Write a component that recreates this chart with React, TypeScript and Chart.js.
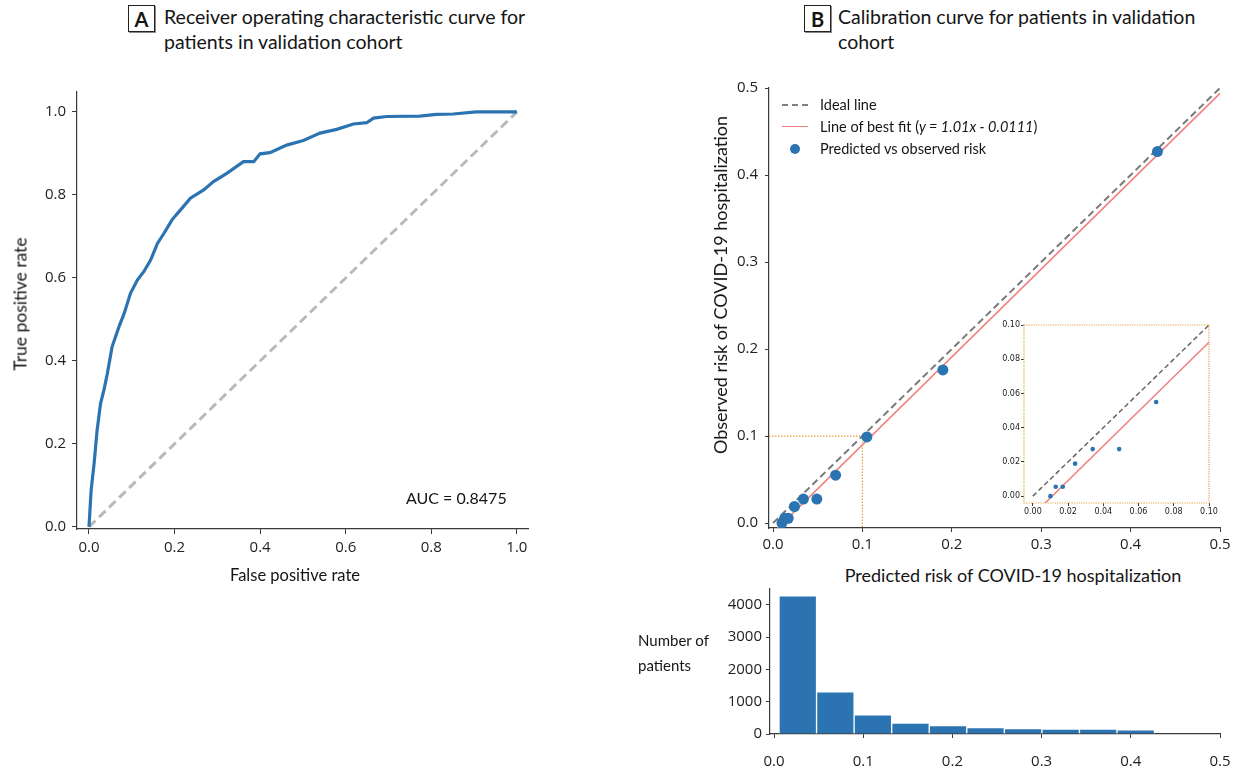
import React, { useEffect, useRef } from 'react';
import Chart from 'chart.js/auto';

// ---------- Panel A: ROC curve ----------
const rocFpr = [0, 0.005, 0.012, 0.019, 0.027, 0.035, 0.043, 0.054, 0.07, 0.082, 0.097, 0.113, 0.128, 0.144, 0.16, 0.175, 0.194, 0.214, 0.237, 0.268, 0.291, 0.322, 0.361, 0.385, 0.4, 0.423, 0.462, 0.501, 0.54, 0.579, 0.618, 0.649, 0.665, 0.696, 0.773, 0.812, 0.851, 0.905, 1.0];
const rocTpr = [0, 0.088, 0.153, 0.233, 0.297, 0.33, 0.37, 0.434, 0.482, 0.514, 0.563, 0.595, 0.615, 0.643, 0.683, 0.707, 0.74, 0.764, 0.792, 0.812, 0.832, 0.852, 0.88, 0.88, 0.899, 0.902, 0.92, 0.931, 0.949, 0.958, 0.971, 0.974, 0.985, 0.989, 0.99, 0.994, 0.995, 1.0, 1.0];
const rocChance = [0, 1];
const rocTicks = [0, 0.2, 0.4, 0.6, 0.8, 1.0];
const aucLabel = 'AUC = 0.8475';

// ---------- Panel B: calibration ----------
const predictedRisk = [0.010, 0.013, 0.017, 0.024, 0.034, 0.049, 0.070, 0.105, 0.190, 0.430];
const observedRisk = [0.000, 0.0055, 0.0055, 0.019, 0.0275, 0.0275, 0.055, 0.099, 0.176, 0.427];
const fitSlope = 1.01;
const fitIntercept = -0.0111;
const calRange = [0, 0.5];
const calTicks = [0, 0.1, 0.2, 0.3, 0.4, 0.5];
const zoomLimit = 0.1;
const insetRange = [0, 0.1];
const insetTicks = [0, 0.02, 0.04, 0.06, 0.08, 0.1];

// ---------- Histogram ----------
const histEdges = [0.0056, 0.0477, 0.0898, 0.1319, 0.174, 0.2161, 0.2582, 0.3003, 0.3424, 0.3845, 0.4266];
const histCounts = [4280, 1310, 598, 340, 258, 200, 170, 150, 150, 130];
const histYTicks = [0, 1000, 2000, 3000, 4000];

const BLUE = '#2b74b1';
const AXIS = '#3a3a3a';
const RED = '#f07f7f';
const ORANGE = '#e2a23c';

Chart.defaults.font.family = 'Open Sans';
Chart.defaults.color = '#222';

type AxisOpts = {
  min: number; max: number; ticks: number[]; digits: number; size: number; horizontal: boolean;
  fontSize: number; padding: number; tickLength: number; family?: string; border?: boolean;
};

function linAxis(o: AxisOpts) {
  return {
    type: 'linear',
    min: o.min,
    max: o.max,
    offset: false,
    afterBuildTicks: (s: any) => { s.ticks = o.ticks.map((v) => ({ value: v })); },
    afterFit: (s: any) => {
      if (o.horizontal) s.height = o.size; else s.width = o.size;
      s.paddingLeft = 0; s.paddingRight = 0; s.paddingTop = 0; s.paddingBottom = 0;
    },
    grid: { display: true, offset: false, drawOnChartArea: false, drawTicks: true, tickLength: o.tickLength, tickWidth: 1, tickColor: AXIS, color: AXIS },
    border: { display: o.border !== false, color: AXIS, width: 1.2 },
    ticks: {
      color: '#222', padding: o.padding, autoSkip: false, maxRotation: 0, minRotation: 0,
      font: { family: o.family || 'Open Sans', size: o.fontSize },
      callback: (v: number) => Number(v).toFixed(o.digits),
    },
  };
}

const pts = (xs: number[], ys: number[]) => xs.map((x, i) => ({ x, y: ys[i] }));
const fitPts = (range: number[]) => range.map((x) => ({ x, y: fitSlope * x + fitIntercept }));

const basePlugins = { legend: { display: false }, tooltip: { enabled: false }, title: { display: false } };

const insetFrame = {
  id: 'insetFrame',
  beforeDraw(chart: any) {
    const { ctx, chartArea: a } = chart;
    ctx.save();
    ctx.fillStyle = '#ffffff';
    ctx.fillRect(a.left, a.top, a.right - a.left, a.bottom - a.top);
    ctx.restore();
  },
  afterDraw(chart: any) {
    const { ctx, chartArea: a } = chart;
    ctx.save();
    ctx.strokeStyle = ORANGE;
    ctx.lineWidth = 1.2;
    ctx.setLineDash([1.2, 1.2]);
    ctx.strokeRect(a.left, a.top, a.right - a.left, a.bottom - a.top);
    ctx.restore();
  },
};

function rocConfig(): any {
  return {
    type: 'scatter',
    data: {
      datasets: [
        { data: pts(rocFpr, rocTpr), showLine: true, borderColor: BLUE, borderWidth: 3.2, pointRadius: 0, tension: 0 },
        { data: pts(rocChance, rocChance), showLine: true, borderColor: '#b9b9b9', borderWidth: 3, borderDash: [9, 5], pointRadius: 0 },
      ],
    },
    options: {
      animation: false, responsive: false,
      layout: { autoPadding: false, padding: { top: 12, right: 17, left: 0, bottom: 0 } },
      plugins: basePlugins,
      scales: {
        x: linAxis({ min: -0.028, max: 1.026, ticks: rocTicks, digits: 1, size: 71, horizontal: true, fontSize: 15, padding: 5, tickLength: 5 }),
        y: linAxis({ min: -0.005, max: 1.048, ticks: rocTicks, digits: 1, size: 77, horizontal: false, fontSize: 15, padding: 6, tickLength: 5 }),
      },
    },
  };
}

function calConfig(): any {
  const xMin = -0.0045, yMin = -0.0057;
  return {
    type: 'scatter',
    data: {
      datasets: [
        { data: pts(predictedRisk, observedRisk), backgroundColor: BLUE, borderWidth: 0, pointRadius: 5.5 },
        { data: fitPts(calRange), showLine: true, borderColor: RED, borderWidth: 1.6, pointRadius: 0 },
        { data: pts(calRange, calRange), showLine: true, borderColor: '#7a7a7a', borderWidth: 2, borderDash: [7, 4], pointRadius: 0 },
        { data: [{ x: xMin, y: zoomLimit }, { x: zoomLimit, y: zoomLimit }, { x: zoomLimit, y: yMin }], showLine: true, borderColor: ORANGE, borderWidth: 1.2, borderDash: [1.5, 1.5], pointRadius: 0 },
      ],
    },
    options: {
      animation: false, responsive: false,
      layout: { autoPadding: false, padding: { top: 18, right: 16, left: 0, bottom: 0 } },
      plugins: basePlugins,
      scales: {
        x: linAxis({ min: xMin, max: 0.5, ticks: calTicks, digits: 1, size: 32, horizontal: true, fontSize: 15, padding: 4, tickLength: 4 }),
        y: linAxis({ min: yMin, max: 0.5, ticks: calTicks, digits: 1, size: 69, horizontal: false, fontSize: 15, padding: 7, tickLength: 4 }),
      },
    },
  };
}

function insetConfig(): any {
  return {
    type: 'scatter',
    data: {
      datasets: [
        { data: pts(predictedRisk, observedRisk), backgroundColor: BLUE, borderWidth: 0, pointRadius: 2.3 },
        { data: fitPts(insetRange), showLine: true, borderColor: RED, borderWidth: 1.5, pointRadius: 0 },
        { data: pts(insetRange, insetRange), showLine: true, borderColor: '#666666', borderWidth: 1.5, borderDash: [5, 3], pointRadius: 0 },
      ],
    },
    options: {
      animation: false, responsive: false,
      layout: { autoPadding: false, padding: { top: 10, right: 11, left: 0, bottom: 0 } },
      plugins: basePlugins,
      scales: {
        x: linAxis({ min: -0.005, max: 0.1, ticks: insetTicks, digits: 2, size: 17, horizontal: true, fontSize: 8, padding: 1, tickLength: 3, family: 'DejaVu Sans', border: false }),
        y: linAxis({ min: -0.004, max: 0.1, ticks: insetTicks, digits: 2, size: 34, horizontal: false, fontSize: 8, padding: 1, tickLength: 3, family: 'DejaVu Sans', border: false }),
      },
    },
    plugins: [insetFrame],
  };
}

function histConfig(): any {
  const centers = histCounts.map((_, i) => (histEdges[i] + histEdges[i + 1]) / 2);
  return {
    type: 'bar',
    data: {
      datasets: [
        {
          data: pts(centers, histCounts), backgroundColor: BLUE, borderColor: 'rgba(255,255,255,0.85)', borderWidth: 1,
          barPercentage: 1, categoryPercentage: 1,
        },
      ],
    },
    options: {
      animation: false, responsive: false,
      layout: { autoPadding: false, padding: { top: 9, right: 16, left: 0, bottom: 0 } },
      plugins: basePlugins,
      scales: {
        x: linAxis({ min: -0.0045, max: 0.5, ticks: calTicks, digits: 1, size: 40, horizontal: true, fontSize: 15, padding: 15, tickLength: 4 }),
        y: { ...linAxis({ min: 0, max: 4494, ticks: histYTicks, digits: 0, size: 70, horizontal: false, fontSize: 15, padding: 4, tickLength: 4 }), beginAtZero: true },
      },
    },
  };
}

function ChartBox(props: { left: number; top: number; width: number; height: number; config: () => any }) {
  const ref = useRef<HTMLCanvasElement | null>(null);
  useEffect(() => {
    if (!ref.current) return;
    const chart = new Chart(ref.current, props.config());
    return () => chart.destroy();
  }, []);
  return (
    <canvas
      ref={ref}
      width={props.width}
      height={props.height}
      style={{ position: 'absolute', left: props.left, top: props.top, width: props.width, height: props.height }}
    />
  );
}

const txt: React.CSSProperties = { position: 'absolute', whiteSpace: 'nowrap', color: '#151515', fontFamily: 'Lato' };

function PanelTitle(props: { letter: string; boxLeft: number; textLeft: number; lines: string[] }) {
  return (
    <>
      <div
        style={{
          ...txt, left: props.boxLeft, top: 5, width: 27, height: 27, boxSizing: 'border-box', border: '1.5px solid #222',
          boxShadow: '1px 1px 0 #888', display: 'flex', alignItems: 'center', justifyContent: 'center', fontWeight: 700, fontSize: 20,
        }}
      >
        {props.letter}
      </div>
      <div style={{ ...txt, left: props.textLeft, top: 4, fontSize: 19.5, lineHeight: '25px' }}>
        {props.lines.map((l, i) => (
          <div key={i}>{l}</div>
        ))}
      </div>
    </>
  );
}

function LegendRow(props: { y: number; kind: 'dash' | 'line' | 'dot'; children: React.ReactNode }) {
  let sample: React.ReactNode = null;
  if (props.kind === 'dash') sample = <div style={{ position: 'absolute', left: 782, top: props.y - 1, width: 26, borderTop: '2px dashed #808080' }} />;
  if (props.kind === 'line') sample = <div style={{ position: 'absolute', left: 782, top: props.y - 1, width: 26, borderTop: '1.6px solid ' + RED }} />;
  if (props.kind === 'dot') sample = <div style={{ position: 'absolute', left: 790, top: props.y - 5, width: 10, height: 10, borderRadius: 5, background: BLUE }} />;
  return (
    <>
      {sample}
      <div style={{ ...txt, left: 820, top: props.y - 10, fontSize: 14.5, lineHeight: '20px' }}>{props.children}</div>
    </>
  );
}

export default function App() {
  return (
    <div style={{ position: 'absolute', left: 0, top: 0, width: 1236, height: 774, overflow: 'hidden', background: '#fff' }}>
      <PanelTitle letter="A" boxLeft={128} textLeft={164} lines={['Receiver operating characteristic curve for', 'patients in validation cohort']} />
      <PanelTitle letter="B" boxLeft={804} textLeft={838} lines={['Calibration curve for patients in validation', 'cohort']} />

      <ChartBox left={0} top={80} width={545} height={520} config={rocConfig} />
      <div style={{ ...txt, left: 295, top: 575, transform: 'translate(-50%,-50%)', fontSize: 16.5 }}>False positive rate</div>
      <div style={{ ...txt, left: 20, top: 304, transform: 'translate(-50%,-50%) rotate(-90deg)', fontSize: 17.5 }}>True positive rate</div>
      <div style={{ ...txt, left: 406, top: 497, transform: 'translateY(-50%)', fontSize: 16 }}>{aucLabel}</div>

      <ChartBox left={700} top={70} width={536} height={490} config={calConfig} />
      <ChartBox left={990} top={315} width={230} height={205} config={insetConfig} />
      <LegendRow y={105} kind="dash">Ideal line</LegendRow>
      <LegendRow y={127} kind="line">
        Line of best fit (<i>y = 1.01x - 0.0111</i>)
      </LegendRow>
      <LegendRow y={149} kind="dot">Predicted vs observed risk</LegendRow>
      <div style={{ ...txt, left: 720, top: 285, transform: 'translate(-50%,-50%) rotate(-90deg)', fontSize: 18 }}>
        Observed risk of COVID-19 hospitalization
      </div>
      <div style={{ ...txt, left: 1013, top: 575, transform: 'translate(-50%,-50%)', fontSize: 18 }}>
        Predicted risk of COVID-19 hospitalization
      </div>

      <ChartBox left={700} top={580} width={536} height={194} config={histConfig} />
      <div style={{ ...txt, left: 638, top: 628, fontSize: 15, lineHeight: '25px' }}>
        <div>Number of</div>
        <div>patients</div>
      </div>
    </div>
  );
}
